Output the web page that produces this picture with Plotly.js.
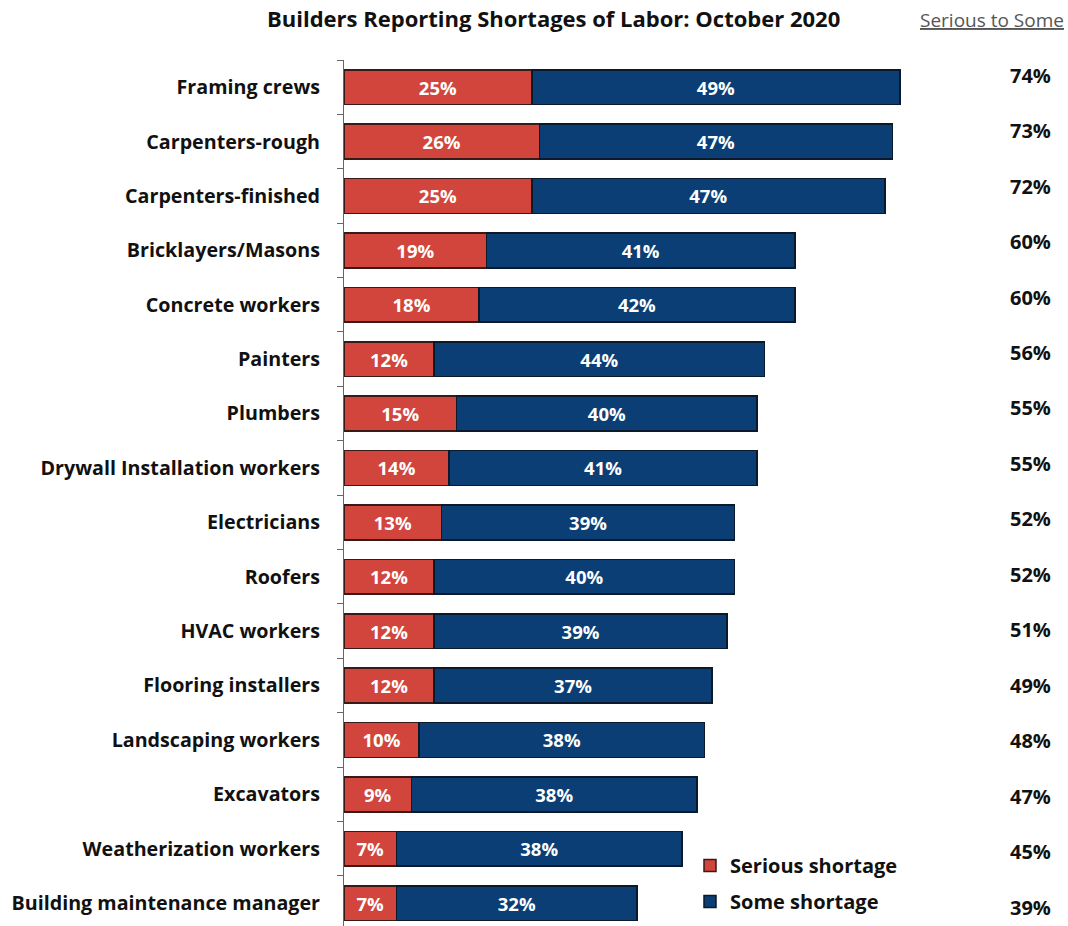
<!DOCTYPE html>
<html><head><meta charset="utf-8">
<script src="https://cdn.plot.ly/plotly-3.0.1.min.js"></script>
<style>html,body{margin:0;padding:0;background:#fff}#chart{width:1068px;height:926px}</style>
</head><body><div id="chart"></div>
<script>
const categories = ["Framing crews","Carpenters-rough","Carpenters-finished","Bricklayers/Masons","Concrete workers","Painters","Plumbers","Drywall Installation workers","Electricians","Roofers","HVAC workers","Flooring installers","Landscaping workers","Excavators","Weatherization workers","Building maintenance manager"];
const serious = [25,26,25,19,18,12,15,14,13,12,12,12,10,9,7,7];
const some = [49,47,47,41,42,44,40,41,39,40,39,37,38,38,38,32];
const totals = [74,73,72,60,60,56,55,55,52,52,51,49,48,47,45,39];

const FONT = "'Open Sans', sans-serif";
const traces = [
  {type:'bar', orientation:'h', name:'Serious shortage', legendgroup:'a', y:categories, x:serious,
   text:serious.map(v=>v+'%'), textposition:'inside', insidetextanchor:'middle', constraintext:'none',
   textfont:{color:'#fff', size:18.5, family:FONT, weight:'bold'},
   marker:{color:'#d1453c', line:{color:'#3a1a18', width:1.5}}, width:0.64, hoverinfo:'none'},
  {type:'bar', orientation:'h', name:'Some shortage', legendgroup:'b', y:categories, x:some,
   text:some.map(v=>v+'%'), textposition:'inside', insidetextanchor:'middle', constraintext:'none',
   textfont:{color:'#fff', size:18.5, family:FONT, weight:'bold'},
   marker:{color:'#0b3e75', line:{color:'#0a1a2a', width:1.5}}, width:0.64, hoverinfo:'none'}
];

const annotations = totals.map((t,i)=>({
  xref:'paper', yref:'y', x:(1030-344)/601, y:categories[i], text:t+'%', showarrow:false,
  xanchor:'center', yanchor:'middle',
  yshift: 12 - i*1.067, font:{size:20, family:FONT, color:'#111', weight:'bold'}
}));
annotations.push({xref:'paper', yref:'paper', x:(553-344)/601, y:(926-18)/866, xanchor:'center', yanchor:'middle',
  text:'Builders Reporting Shortages of Labor: October 2020',
  showarrow:false, font:{size:22, family:FONT, color:'#111', weight:'bold'}});
annotations.push({xref:'paper', yref:'paper', x:(992-344)/601, y:(926-20)/866, xanchor:'center', yanchor:'middle',
  text:'<u>Serious to Some</u>',
  showarrow:false, font:{size:19, family:FONT, color:'#555'}});

const layout = {
  width:1068, height:926,
  margin:{l:344, r:123, t:60, b:0},
  paper_bgcolor:'#fff', plot_bgcolor:'#fff',
  barmode:'stack',
  showlegend:true,
  legend:{x:(690-344)/601, y:(926-846)/866, xanchor:'left', yanchor:'top', traceorder:'grouped', tracegroupgap:7,
    font:{size:20, family:FONT, color:'#111', weight:'bold'}, bgcolor:'rgba(0,0,0,0)'},
  xaxis:{range:[0,80], visible:false, fixedrange:true},
  yaxis:{type:'category', range:[15.42,-0.5], showline:true, linecolor:'#666', linewidth:1,
    ticks:'outside', ticklen:6, tickcolor:'#666', tickson:'boundaries', showgrid:false, zeroline:false,
    ticklabelstandoff:19, tickfont:{size:19.7, family:FONT, color:'#111', weight:'bold'}},
  annotations:annotations
};
Plotly.newPlot('chart', traces, layout, {staticPlot:true, displayModeBar:false});
</script></body></html>
